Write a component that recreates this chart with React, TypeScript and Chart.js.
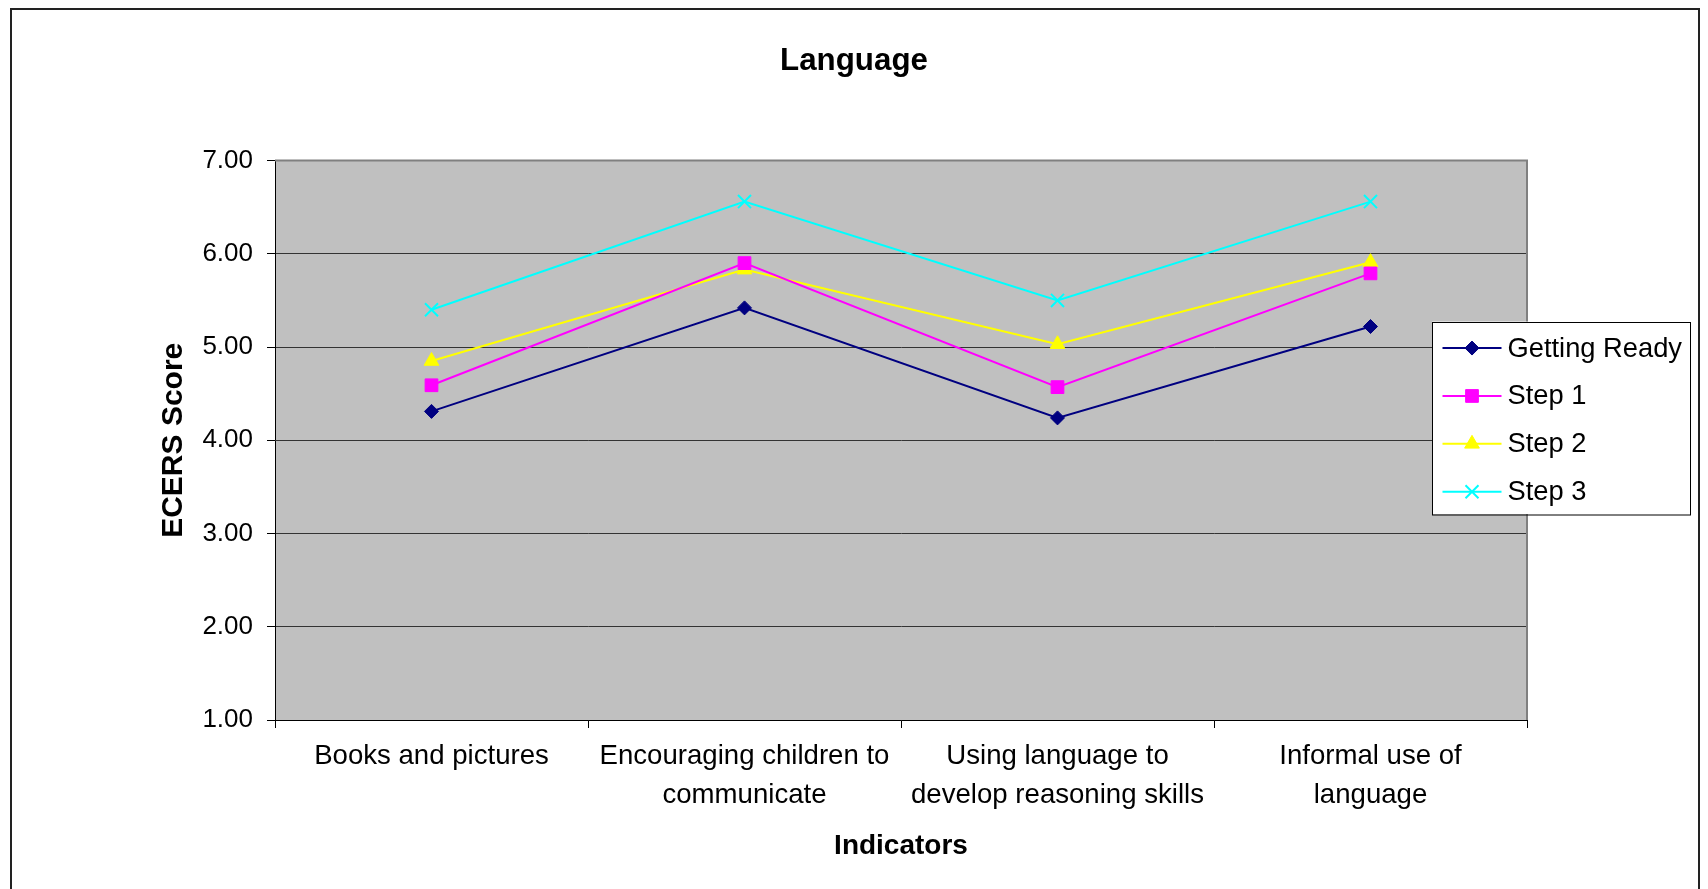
import React, { useEffect, useRef } from 'react';
import { Chart, registerables } from 'chart.js';

Chart.register(...registerables);

// ---- data ----
const chartTitle = 'Language';
const xAxisTitle = 'Indicators';
const yAxisTitle = 'ECERS Score';
const categories = [
  ['Books and pictures'],
  ['Encouraging children to', 'communicate'],
  ['Using language to', 'develop reasoning skills'],
  ['Informal use of', 'language'],
];
const seriesNames = ['Getting Ready', 'Step 1', 'Step 2', 'Step 3'];
const gettingReady = [4.31, 5.42, 4.24, 5.22];
const step1 = [4.59, 5.9, 4.57, 5.79];
const step2 = [4.85, 5.83, 5.03, 5.91];
const step3 = [5.4, 6.56, 5.5, 6.56];
const yMin = 1;
const yMax = 7;
const yStep = 1;

// ---- styles ----
const FONT = "'Liberation Sans', Arial, sans-serif";
const colors = ['#000080', '#FF00FF', '#FFFF00', '#00FFFF'];
const pointStyles = ['rectRot', 'rect', 'triangle', 'crossRot'];
const pointRadii = [7, 9, 8.5, 9.2];
const pointBorderWidths = [1, 1, 1, 2];

function drawMarker(ctx: CanvasRenderingContext2D, style: string, x: number, y: number, r: number, color: string, bw: number) {
  ctx.save();
  ctx.fillStyle = color;
  ctx.strokeStyle = color;
  ctx.lineWidth = bw;
  ctx.beginPath();
  if (style === 'rectRot') {
    ctx.moveTo(x - r, y);
    ctx.lineTo(x, y - r);
    ctx.lineTo(x + r, y);
    ctx.lineTo(x, y + r);
    ctx.closePath();
    ctx.fill();
    ctx.stroke();
  } else if (style === 'rect') {
    const s = Math.SQRT1_2 * r;
    ctx.rect(x - s, y - s, 2 * s, 2 * s);
    ctx.fill();
    ctx.stroke();
  } else if (style === 'triangle') {
    ctx.moveTo(x, y - r);
    ctx.lineTo(x + Math.sin((2 * Math.PI) / 3) * r, y + 0.5 * r);
    ctx.lineTo(x - Math.sin((2 * Math.PI) / 3) * r, y + 0.5 * r);
    ctx.closePath();
    ctx.fill();
    ctx.stroke();
  } else {
    const o = Math.SQRT1_2 * r;
    ctx.moveTo(x - o, y - o);
    ctx.lineTo(x + o, y + o);
    ctx.moveTo(x + o, y - o);
    ctx.lineTo(x - o, y + o);
    ctx.stroke();
  }
  ctx.restore();
}

const decorPlugin = {
  id: 'decor',
  beforeDraw(chart: any) {
    const { ctx, chartArea } = chart;
    ctx.save();
    ctx.fillStyle = '#FFFFFF';
    ctx.fillRect(0, 0, chart.width, chart.height);
    ctx.fillStyle = '#C0C0C0';
    ctx.fillRect(chartArea.left, chartArea.top, chartArea.right - chartArea.left, chartArea.bottom - chartArea.top);
    ctx.restore();
  },
  beforeDatasetsDraw(chart: any) {
    const { ctx, chartArea } = chart;
    ctx.save();
    ctx.strokeStyle = '#808080';
    ctx.lineWidth = 2;
    ctx.beginPath();
    ctx.moveTo(chartArea.left, chartArea.top);
    ctx.lineTo(chartArea.right, chartArea.top);
    ctx.lineTo(chartArea.right, chartArea.bottom);
    ctx.stroke();
    ctx.restore();
  },
  afterDraw(chart: any) {
    const { ctx, chartArea } = chart;
    ctx.save();
    // legend box
    const bx = chartArea.right - 95;
    const by = chartArea.top + 161;
    const bw = 258;
    const bh = 192.5;
    ctx.fillStyle = '#FFFFFF';
    ctx.fillRect(bx, by, bw, bh);
    ctx.strokeStyle = '#000000';
    ctx.lineWidth = 1;
    ctx.strokeRect(Math.round(bx) + 0.5, Math.round(by) + 0.5, bw, bh);
    ctx.font = `27.3px ${FONT}`;
    ctx.textBaseline = 'middle';
    ctx.textAlign = 'left';
    chart.data.datasets.forEach((ds: any, i: number) => {
      const y = by + 26.5 + i * 47.9;
      ctx.strokeStyle = ds.borderColor;
      ctx.lineWidth = 2;
      ctx.beginPath();
      ctx.moveTo(bx + 10.5, y);
      ctx.lineTo(bx + 69.5, y);
      ctx.stroke();
      drawMarker(ctx, pointStyles[i], bx + 40, y, pointRadii[i], colors[i], pointBorderWidths[i]);
      ctx.fillStyle = '#000000';
      ctx.fillText(ds.label, bx + 75.5, y + 1);
    });
    // outer chart border
    ctx.strokeStyle = '#222222';
    ctx.lineWidth = 2;
    ctx.strokeRect(11, 9, 1688, 1000);
    ctx.restore();
  },
};

export default function App() {
  const ref = useRef<HTMLCanvasElement | null>(null);
  useEffect(() => {
    if (!ref.current) return;
    Chart.defaults.font.family = FONT;
    Chart.defaults.color = '#000000';
    const seriesValues = [gettingReady, step1, step2, step3];
    const chart = new Chart(ref.current, {
      type: 'line',
      data: {
        labels: categories,
        datasets: seriesNames.map((name, i) => ({
          label: name,
          data: seriesValues[i],
          borderColor: colors[i],
          backgroundColor: colors[i],
          borderWidth: 2,
          pointStyle: pointStyles[i] as any,
          pointRadius: pointRadii[i],
          pointBorderWidth: pointBorderWidths[i],
          pointBackgroundColor: colors[i],
          pointBorderColor: colors[i],
          tension: 0,
          fill: false,
        })),
      },
      options: {
        animation: false,
        responsive: true,
        maintainAspectRatio: false,
        layout: { padding: 0 },
        plugins: {
          legend: { display: false },
          tooltip: { enabled: false },
          title: {
            display: true,
            text: chartTitle,
            color: '#000000',
            font: { size: 31.3, weight: 'bold', family: FONT, lineHeight: 1.2 },
            padding: { top: 42.5, bottom: 80.5 },
          },
        },
        scales: {
          x: {
            type: 'category',
            offset: true,
            grid: {
              offset: true,
              drawOnChartArea: false,
              drawTicks: true,
              tickLength: 8,
              tickColor: '#000000',
            },
            border: { display: true, color: '#000000', width: 1 },
            ticks: {
              font: { size: 27.6, lineHeight: 1.42, family: FONT },
              color: '#000000',
              padding: 8.5,
              maxRotation: 0,
              minRotation: 0,
              autoSkip: false,
            },
            title: {
              display: true,
              text: xAxisTitle,
              color: '#000000',
              font: { size: 28, weight: 'bold', family: FONT, lineHeight: 1.2 },
              padding: { top: 0, bottom: 26 },
            },
            afterFit(s: any) {
              s.height = 169;
            },
          },
          y: {
            type: 'linear',
            min: yMin,
            max: yMax,
            ticks: {
              stepSize: yStep,
              callback: (v: any) => Number(v).toFixed(2),
              font: { size: 26, family: FONT },
              color: '#000000',
              padding: 14,
            },
            grid: {
              color: (c: any) => (c.tick && c.tick.value === yMax ? '#808080' : '#333333'),
              tickColor: '#000000',
              tickLength: 8,
              lineWidth: 1,
            },
            border: { display: true, color: '#000000', width: 1 },
            title: {
              display: true,
              text: yAxisTitle,
              color: '#000000',
              font: { size: 30, weight: 'bold', family: FONT, lineHeight: 1.2 },
              padding: { top: 156, bottom: 0 },
            },
            afterFit(s: any) {
              s.width = 275;
            },
          },
          y2: {
            type: 'linear',
            position: 'right',
            display: true,
            ticks: { display: false },
            grid: { display: false },
            border: { display: false },
            title: { display: false },
            afterFit(s: any) {
              s.width = 181;
            },
          },
        },
      },
      plugins: [decorPlugin],
    } as any);
    return () => chart.destroy();
  }, []);
  return (
    <div style={{ position: 'fixed', left: 0, top: 0, width: 1708, height: 889, overflow: 'hidden', background: '#fff' }}>
      <canvas ref={ref} />
    </div>
  );
}
